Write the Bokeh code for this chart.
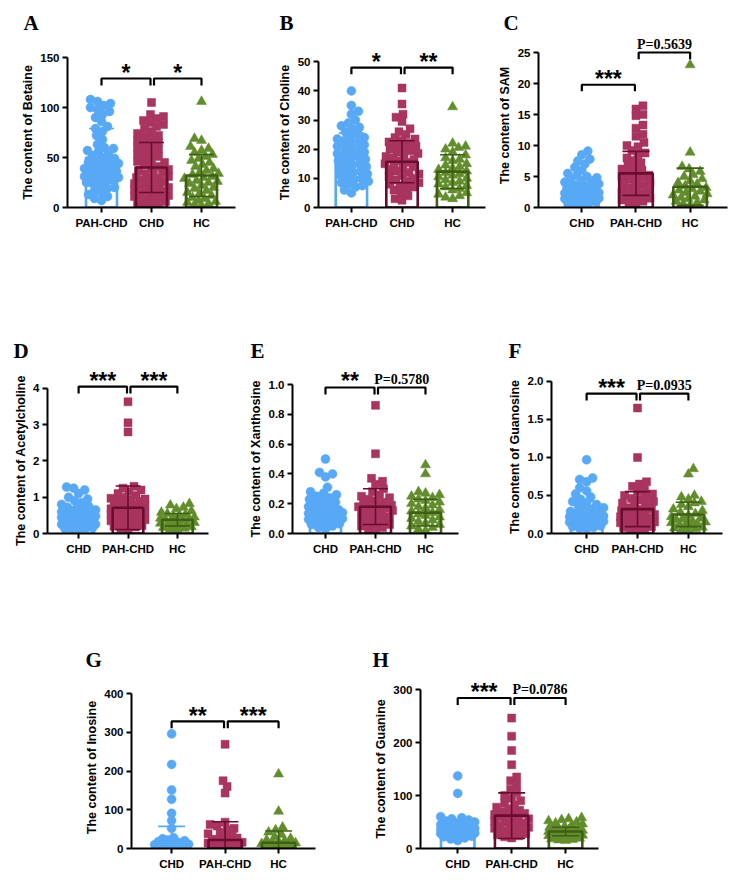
import numpy as np
from bokeh.plotting import figure
from bokeh.models import Range1d, FixedTicker, Title, PrintfTickFormatter
from bokeh.layouts import row, column
from bokeh.embed import file_html
from bokeh.resources import INLINE
from bokeh.core.properties import value

# ---------------- DATA ----------------
# A  Betaine
betaine_groups = ["PAH-CHD", "CHD", "HC"]
betaine_pah_chd = [108, 106, 104, 102, 100, 98, 96, 93, 90, 86, 81, 79, 76, 72, 68, 63, 60, 59, 57, 56, 54, 52, 50, 49,
                   47, 46, 45, 44, 43, 41, 40, 39, 38, 37, 36, 35, 34, 33, 32, 31, 30, 29, 28, 27, 26, 25, 24, 22, 20,
                   19, 17, 15, 13, 11, 9, 7]
betaine_chd = [105, 93, 91, 89, 87, 85, 83, 81, 79, 76, 74, 72, 71, 69, 67, 65, 64, 62, 60, 58, 57, 55, 53, 51, 50, 48,
               46, 45, 43, 41, 40, 38, 37, 35, 34, 33, 31, 30, 29, 28, 27, 26, 25, 24, 23, 22, 21, 20, 19, 18, 17, 16,
               15, 14, 13, 12, 11, 10, 9, 8, 7, 6, 5, 4, 3, 2]
betaine_hc = [106, 69, 67, 61, 59, 57, 55, 53, 51, 49, 47, 45, 43, 41, 39, 37, 35, 34, 33, 31, 30, 29, 27, 26, 25, 24,
              22, 20, 19, 17, 15, 14, 12, 10, 9, 7, 6, 5, 4, 3, 2]
betaine_mean = [50, 40, 32]
betaine_sd = [29, 25, 21]
betaine_ticks = [0, 50, 100, 150]
betaine_sig_y = [129, 129]
betaine_sig = ["*", "*"]

# B  Choline
choline_groups = ["PAH-CHD", "CHD", "HC"]
choline_pah_chd = [40, 35, 33, 32, 30, 29, 28, 27.5, 27, 26, 25, 24.5, 24, 23.5, 23, 22.5, 22, 21.5, 21, 20.5, 20, 19.5,
                   19, 18.5, 18, 17.5, 17, 16.5, 16, 15.5, 15, 14.5, 14, 13.5, 13, 12.5, 12, 11.5, 11, 10.5, 10, 9.5, 9,
                   8.5, 8, 7.5, 7, 6, 5]
choline_chd = [41, 35.5, 32, 31, 29.5, 27, 26, 25, 24, 23.5, 23, 22.5, 22, 21.5, 21, 20.5, 20, 19.5, 19, 18.5, 18, 17.5,
               17, 16.5, 16, 15.5, 15, 14.5, 14, 13.5, 13, 12.5, 12, 11.5, 11, 10.5, 10, 9.5, 9, 8.5, 8, 7.5, 7, 6.5, 6,
               5, 4, 3, 2.5]
choline_hc = [34.5, 22, 21, 20.5, 20, 19, 18, 17, 16.5, 16, 15, 14.5, 14, 13.5, 13, 12.5, 12, 11.5, 11, 10.5, 10, 9.5, 9,
              8.5, 8, 7.5, 7, 6.5, 6, 5, 4.5, 4, 3.5, 3]
choline_mean = [18, 15.7, 12.3]
choline_sd = [7.5, 7.2, 5.8]
choline_ticks = [0, 10, 20, 30, 40, 50]
choline_sig_y = [48, 48]
choline_sig = ["*", "**"]

# C  SAM
sam_groups = ["CHD", "PAH-CHD", "HC"]
sam_chd = [9.1, 8.5, 7.8, 7.5, 7.0, 6.5, 6.0, 5.5, 5.2, 5.0, 4.8, 4.5, 4.3, 4.1, 4.0, 3.8, 3.6, 3.5, 3.3, 3.1, 3.0, 2.9,
           2.8, 2.6, 2.5, 2.4, 2.3, 2.2, 2.0, 1.9, 1.8, 1.7, 1.5, 1.4, 1.3, 1.2, 1.1, 1.0, 0.9, 0.8, 0.7, 0.6, 0.5]
sam_pah_chd = [16.4, 15.9, 15.0, 14.8, 13.3, 12.8, 11.8, 11.5, 10.5, 10.0, 9.8, 9.2, 8.8, 8.5, 8.0, 7.6, 7.2, 6.8, 6.5,
               6.2, 6.0, 5.7, 5.4, 5.2, 5.0, 4.8, 4.5, 4.2, 4.0, 3.8, 3.5, 3.2, 3.0, 2.8, 2.5, 2.2, 2.0, 1.8, 1.5, 1.2,
               1.0, 0.8, 0.6]
sam_hc = [23.0, 8.9, 6.6, 6.2, 5.8, 5.3, 5.0, 4.6, 4.3, 4.0, 3.8, 3.5, 3.2, 3.0, 2.8, 2.6, 2.4, 2.2, 2.0, 1.8, 1.6, 1.4,
          1.2, 1.0, 0.8, 0.6, 0.4]
sam_mean = [3.0, 5.5, 3.35]
sam_sd = [1.9, 3.55, 3.0]
sam_ticks = [0, 5, 10, 15, 20, 25]
sam_sig_y = [19.8, 25.0]
sam_sig = ["***", "P=0.5639"]

# D  Acetylcholine
ach_groups = ["CHD", "PAH-CHD", "HC"]
ach_chd = [1.28, 1.25, 1.2, 1.1, 1.0, 0.95, 0.9, 0.85, 0.8, 0.75, 0.72, 0.7, 0.65, 0.62, 0.6, 0.58, 0.55, 0.52, 0.5,
           0.48, 0.46, 0.44, 0.42, 0.4, 0.38, 0.36, 0.34, 0.32, 0.3, 0.28, 0.26, 0.25, 0.24, 0.22, 0.2, 0.18, 0.16,
           0.15, 0.14, 0.13, 0.12]
ach_pah_chd = [3.63, 3.05, 2.8, 1.3, 1.25, 1.2, 1.15, 1.1, 1.05, 1.0, 0.97, 0.95, 0.92, 0.9, 0.88, 0.85, 0.82, 0.8,
               0.78, 0.75, 0.72, 0.7, 0.68, 0.65, 0.62, 0.6, 0.58, 0.55, 0.52, 0.5, 0.48, 0.45, 0.42, 0.4, 0.38, 0.35,
               0.32, 0.3, 0.28, 0.25, 0.22, 0.2, 0.18, 0.15, 0.12]
ach_hc = [0.82, 0.78, 0.72, 0.68, 0.62, 0.58, 0.55, 0.52, 0.5, 0.48, 0.45, 0.42, 0.4, 0.38, 0.36, 0.34, 0.32, 0.3, 0.28,
          0.26, 0.24, 0.22, 0.2, 0.18, 0.16, 0.14, 0.12, 0.1]
ach_mean = [0.47, 0.71, 0.38]
ach_sd = [0.25, 0.6, 0.17]
ach_ticks = [0, 1, 2, 3, 4]
ach_sig_y = [4.05, 4.05]
ach_sig = ["***", "***"]

# E  Xanthosine
xan_groups = ["CHD", "PAH-CHD", "HC"]
xan_chd = [0.5, 0.41, 0.4, 0.38, 0.31, 0.28, 0.27, 0.26, 0.25, 0.24, 0.23, 0.22, 0.21, 0.2, 0.19, 0.18, 0.17, 0.16,
           0.155, 0.15, 0.145, 0.14, 0.135, 0.13, 0.125, 0.12, 0.115, 0.11, 0.1, 0.095, 0.09, 0.085, 0.08, 0.07, 0.065,
           0.06, 0.05, 0.04, 0.03]
xan_pah_chd = [0.86, 0.535, 0.37, 0.35, 0.33, 0.3, 0.28, 0.26, 0.25, 0.24, 0.23, 0.22, 0.21, 0.2, 0.19, 0.185, 0.18,
               0.175, 0.17, 0.165, 0.16, 0.155, 0.15, 0.14, 0.13, 0.12, 0.11, 0.1, 0.09, 0.08, 0.07, 0.06, 0.05, 0.04,
               0.03, 0.02]
xan_hc = [0.46, 0.4, 0.28, 0.27, 0.26, 0.25, 0.24, 0.23, 0.22, 0.21, 0.2, 0.19, 0.18, 0.17, 0.16, 0.15, 0.14, 0.13,
          0.12, 0.11, 0.1, 0.09, 0.08, 0.07, 0.06, 0.05, 0.04, 0.03, 0.02]
xan_mean = [0.148, 0.18, 0.14]
xan_sd = [0.09, 0.12, 0.09]
xan_ticks = [0.0, 0.2, 0.4, 0.6, 0.8, 1.0]
xan_sig_y = [0.98, 0.98]
xan_sig = ["**", "P=0.5780"]

# F  Guanosine
guo_groups = ["CHD", "PAH-CHD", "HC"]
guo_chd = [0.97, 0.73, 0.71, 0.68, 0.6, 0.56, 0.52, 0.48, 0.45, 0.42, 0.4, 0.38, 0.36, 0.34, 0.32, 0.3, 0.29, 0.28,
           0.27, 0.26, 0.25, 0.24, 0.23, 0.22, 0.21, 0.2, 0.19, 0.18, 0.17, 0.16, 0.15, 0.14, 0.13, 0.12, 0.11, 0.1,
           0.09, 0.08, 0.07, 0.06]
guo_pah_chd = [1.65, 1.0, 0.68, 0.65, 0.62, 0.58, 0.55, 0.52, 0.5, 0.48, 0.46, 0.44, 0.42, 0.4, 0.38, 0.36, 0.34, 0.33,
               0.32, 0.3, 0.28, 0.27, 0.26, 0.25, 0.24, 0.22, 0.2, 0.19, 0.18, 0.17, 0.16, 0.15, 0.14, 0.13, 0.12,
               0.11, 0.1, 0.09, 0.08, 0.06, 0.05, 0.04]
guo_hc = [0.85, 0.78, 0.5, 0.48, 0.45, 0.42, 0.4, 0.38, 0.35, 0.32, 0.3, 0.28, 0.26, 0.24, 0.22, 0.2, 0.19, 0.18, 0.17,
          0.16, 0.15, 0.14, 0.13, 0.12, 0.1, 0.09, 0.08, 0.07, 0.06, 0.05, 0.04]
guo_mean = [0.26, 0.32, 0.25]
guo_sd = [0.16, 0.23, 0.16]
guo_ticks = [0.0, 0.5, 1.0, 1.5, 2.0]
guo_sig_y = [1.84, 1.84]
guo_sig = ["***", "P=0.0935"]

# G  Inosine
ino_groups = ["CHD", "PAH-CHD", "HC"]
ino_chd = [296, 217, 151, 127, 91, 72, 52, 28, 25, 22, 20, 18, 16, 14, 12, 11, 10, 9, 8, 7, 6, 5, 4, 3, 2, 1]
ino_pah_chd = [269, 175, 160, 143, 68, 62, 58, 52, 48, 42, 38, 34, 30, 27, 24, 22, 20, 18, 16, 14, 12, 10, 8, 6, 5, 4,
               3, 2, 1]
ino_hc = [192, 96, 55, 48, 42, 36, 30, 26, 22, 20, 18, 16, 14, 12, 10, 8, 7, 6, 5, 4, 3, 2, 1]
ino_mean = [12, 22, 15]
ino_sd = [45, 47, 30]
ino_ticks = [0, 100, 200, 300, 400]
ino_sig_y = [328, 328]
ino_sig = ["**", "***"]

# H  Guanine
gua_groups = ["CHD", "PAH-CHD", "HC"]
gua_chd = [137, 104, 60, 58, 56, 54, 52, 50, 48, 46, 45, 44, 42, 41, 40, 39, 38, 37, 36, 35, 34, 33, 32, 31, 30, 29,
           28, 27, 26, 25, 24, 23, 22, 20, 18, 15]
gua_pah_chd = [246, 212, 185, 158, 135, 128, 120, 112, 105, 100, 95, 90, 86, 82, 78, 75, 72, 70, 68, 66, 64, 62, 60,
               58, 56, 54, 52, 50, 48, 46, 44, 42, 40, 38, 36, 34, 32, 30, 28, 26, 24, 22, 20]
gua_hc = [58, 56, 54, 52, 50, 48, 46, 44, 42, 40, 39, 38, 37, 36, 35, 34, 33, 32, 31, 30, 29, 28, 27, 26, 25, 24, 23,
          22, 21, 20, 19, 18, 17, 16, 15]
gua_mean = [37, 62, 32]
gua_sd = [12, 43, 8]
gua_ticks = [0, 100, 200, 300]
gua_sig_y = [284, 284]
gua_sig = ["***", "P=0.0786"]

# ---------------- STYLE ----------------
PT_COLORS = ["#58a9f5", "#a8345f", "#628d2c"]
LN_COLORS = ["#58a9f5", "#6a0c2f", "#3e5f14"]
MARKERS = ["circle", "square", "triangle"]
SIZES = [9, 8, 10]
SANS = "Liberation Sans"
SERIF = "Liberation Serif"
YLAB_PX = 12.5

# Arial/Liberation Sans Bold advance widths (per em) used to centre the rotated y titles
BOLD_W = {" ": .278, "A": .722, "B": .722, "C": .722, "G": .778, "I": .278, "M": .833, "S": .667, "T": .611,
          "X": .667, "a": .556, "c": .556, "e": .556, "f": .333, "h": .611, "i": .278, "l": .278, "n": .611,
          "o": .611, "s": .556, "t": .333, "u": .611, "y": .556}


def text_w(s, px):
    return sum(BOLD_W.get(ch, .6) for ch in s) * px


def swarm(vals, k, xk, half_px, diam):
    ys = np.asarray(vals, float) * k
    cands = [0.0]
    for d in np.arange(1.0, half_px + 0.01, 1.0):
        cands += [d, -d]
    placed = []
    offs = np.zeros(len(ys))
    for n, i in enumerate(np.argsort(ys)):
        cs = cands if n % 2 == 0 else [-c for c in cands]
        best, bestd = 0.0, -1.0
        for c in cs:
            md = min((np.hypot(c - px, ys[i] - py) for px, py in placed), default=1e9)
            if md >= diam:
                best = c
                break
            if md > bestd:
                bestd, best = md, c
        placed.append((best, ys[i]))
        offs[i] = best / xk
    return offs


def panel(g, row_top, row_h, groups, series, means, sds, ticks, sig_y, sig, ylabel, letter, fmt):
    extra = g["ly"] - 5
    left = g["ax"] - g["fx"]
    fw = g["ar"] - g["ax"]
    right = g["fw"] - left - fw
    T = ticks[-1]
    axis_h = g["yb"] - g["yt"]
    k = axis_h / T
    top = (g["yt"] - extra) - row_top
    fh = axis_h + extra
    bottom = row_h - top - fh
    xr = g["xr"]
    xk = fw / (xr[1] - xr[0])
    p = figure(width=g["fw"], height=row_h, x_range=Range1d(*xr), y_range=Range1d(0, T + extra / k),
               output_backend="svg", toolbar_location=None, title=None,
               min_border_left=int(left), min_border_right=int(right), min_border_top=int(top),
               min_border_bottom=int(bottom))
    p.outline_line_color = None
    p.grid.visible = False
    p.background_fill_color = "white"

    # points
    for i, vals in enumerate(series):
        offs = swarm(vals, k, xk, 17, 7)
        p.scatter(x=list(i + offs), y=vals, marker=MARKERS[i], size=SIZES[i],
                  fill_color=PT_COLORS[i], line_color=PT_COLORS[i], line_width=0.5)
    # bars
    p.vbar(x=[0, 1, 2], top=means, bottom=0, width=0.62, fill_color=None,
           line_color=LN_COLORS, line_width=2.6)
    # error bars (mean +/- SD)
    lo = [max(0.0, m - s) for m, s in zip(means, sds)]
    hi = [m + s for m, s in zip(means, sds)]
    p.segment(x0=[0, 1, 2], y0=lo, x1=[0, 1, 2], y1=hi, line_color=LN_COLORS, line_width=1.6)
    p.segment(x0=[x - 0.25 for x in range(3)], y0=hi, x1=[x + 0.25 for x in range(3)], y1=hi,
              line_color=LN_COLORS, line_width=1.6)
    lo_x = [x for x, l in zip(range(3), lo) if l > 0]
    lo_y = [l for l in lo if l > 0]
    p.segment(x0=[x - 0.25 for x in lo_x], y0=lo_y, x1=[x + 0.25 for x in lo_x], y1=lo_y,
              line_color=[LN_COLORS[x] for x in lo_x], line_width=1.6)

    # significance brackets
    drop = 7 / k
    spans = [(0.0, 0.98), (1.05, 2.0)]
    xs, ys = [], []
    star_x, star_y, star_t, p_x, p_y, p_t = [], [], [], [], [], []
    for (a, b), y, t in zip(spans, sig_y, sig):
        xs.append([a, a, b, b])
        ys.append([y - drop, y, y, y - drop])
        if t.startswith("P"):
            p_x.append((a + b) / 2); p_y.append(y + 8 / k); p_t.append(t)
        else:
            star_x.append((a + b) / 2); star_y.append(y + 6 / k); star_t.append(t)
    p.multi_line(xs=xs, ys=ys, line_color="black", line_width=2.2)
    if star_t:
        p.text(x=star_x, y=star_y, text=star_t, text_font=value(SANS), text_font_style="bold",
               text_font_size="23px", text_align="center", text_baseline="alphabetic", text_color="black")
    if p_t:
        p.text(x=p_x, y=p_y, text=p_t, text_font=value(SERIF), text_font_style="bold",
               text_font_size="14px", text_align="center", text_baseline="alphabetic", text_color="black")

    # axes
    p.xaxis.ticker = FixedTicker(ticks=[0, 1, 2])
    p.xaxis.major_label_overrides = {0: groups[0], 1: groups[1], 2: groups[2]}
    p.yaxis.ticker = FixedTicker(ticks=ticks)
    p.yaxis.bounds = (0, T)
    p.yaxis.formatter = PrintfTickFormatter(format=fmt)
    for ax in (p.xaxis[0], p.yaxis[0]):
        ax.axis_line_width = 2
        ax.axis_line_color = "black"
        ax.major_tick_line_width = 2
        ax.major_tick_line_color = "black"
        ax.major_tick_out = 5
        ax.major_tick_in = 0
        ax.minor_tick_line_color = None
        ax.major_label_text_font = SANS
        ax.major_label_text_font_style = "bold"
        ax.major_label_text_font_size = "11.5px"
        ax.major_label_text_color = "black"
    p.xaxis.major_label_standoff = 4
    p.yaxis.major_label_standoff = 3

    # y title, centred on the drawn part of the axis
    p.add_layout(Title(text=ylabel, align="left", offset=(axis_h - text_w(ylabel, YLAB_PX)) / 2,
                       standoff=6, vertical_align="bottom", text_font=SANS, text_font_style="bold",
                       text_font_size=f"{YLAB_PX}px", text_color="black"), "left")
    # panel letter
    p.add_layout(Title(text=letter, align="left", offset=g["lx"], standoff=1, vertical_align="bottom",
                       text_font=SERIF, text_font_style="bold", text_font_size="21px",
                       text_color="black"), "above")
    return p


R1, H1 = 0, 240
R2, H2 = 240, 335
R3, H3 = 575, 313

pA = panel(dict(fx=0, fw=248, ax=67, ar=235, yt=57, yb=207, xr=(-0.68, 2.68), lx=-44, ly=27), R1, H1,
           betaine_groups, [betaine_pah_chd, betaine_chd, betaine_hc], betaine_mean, betaine_sd, betaine_ticks,
           betaine_sig_y, betaine_sig, "The content of Betaine", "A", "%d")
pB = panel(dict(fx=248, fw=242, ax=318, ar=485, yt=62, yb=212, xr=(-0.65, 2.65), lx=-39, ly=32), R1, H1,
           choline_groups, [choline_pah_chd, choline_chd, choline_hc], choline_mean, choline_sd, choline_ticks,
           choline_sig_y, choline_sig, "The content of Choline", "B", "%d")
pC = panel(dict(fx=490, fw=254, ax=538, ar=727, yt=48, yb=212, xr=(-0.8, 2.69), lx=-35, ly=23), R1, H1,
           sam_groups, [sam_chd, sam_pah_chd, sam_hc], sam_mean, sam_sd, sam_ticks,
           sam_sig_y, sam_sig, "The content of SAM", "C", "%d")
pD = panel(dict(fx=0, fw=240, ax=47, ar=208, yt=387, yb=533, xr=(-0.63, 2.63), lx=-34, ly=30), R2, H2,
           ach_groups, [ach_chd, ach_pah_chd, ach_hc], ach_mean, ach_sd, ach_ticks,
           ach_sig_y, ach_sig, "The content of Acetylcholine", "D", "%d")
pE = panel(dict(fx=240, fw=250, ax=292, ar=458, yt=384, yb=533, xr=(-0.66, 2.66), lx=-42, ly=26), R2, H2,
           xan_groups, [xan_chd, xan_pah_chd, xan_hc], xan_mean, xan_sd, xan_ticks,
           xan_sig_y, xan_sig, "The content of Xanthosine", "E", "%.1f")
pF = panel(dict(fx=490, fw=254, ax=551, ar=722, yt=380, yb=533, xr=(-0.69, 2.67), lx=-43, ly=23), R2, H2,
           guo_groups, [guo_chd, guo_pah_chd, guo_hc], guo_mean, guo_sd, guo_ticks,
           guo_sig_y, guo_sig, "The content of Guanosine", "F", "%.1f")
pG = panel(dict(fx=0, fw=350, ax=131, ar=315, yt=687, yb=849, xr=(-0.75, 2.69), lx=-46, ly=27), R3, H3,
           ino_groups, [ino_chd, ino_pah_chd, ino_hc], ino_mean, ino_sd, ino_ticks,
           ino_sig_y, ino_sig, "The content of Inosine", "G", "%d")
pH = panel(dict(fx=350, fw=394, ax=420, ar=598, yt=689, yb=848, xr=(-0.69, 2.61), lx=-48, ly=22), R3, H3,
           gua_groups, [gua_chd, gua_pah_chd, gua_hc], gua_mean, gua_sd, gua_ticks,
           gua_sig_y, gua_sig, "The content of Guanine", "H", "%d")

layout = column(row(pA, pB, pC), row(pD, pE, pF), row(pG, pH))
open("out.html", "w").write(file_html(layout, INLINE))
